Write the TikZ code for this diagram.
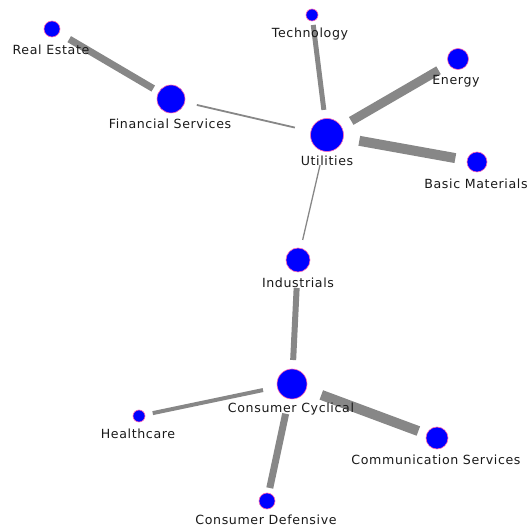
\documentclass[tikz,border=0pt]{standalone}
\usepackage{fontspec}
\setmainfont{DejaVu Sans}[LetterSpace=5]
\begin{document}
\begin{tikzpicture}[x=1pt,y=-1pt,
  sector/.style={circle,draw=red!50!magenta!60,line width=0.6pt,fill=blue,inner sep=0pt,minimum size=#1},
  lab/.style={font=\fontsize{12.6}{14}\selectfont,text=black!90,inner sep=0pt,anchor=center},
  link/.style={draw=black!47,line width=#1}]
\useasboundingbox (0,0) rectangle (531,529);
% nodes
\node[sector=16pt] (re) at (52,29) {};
\node[sector=28pt] (fs) at (171,99) {};
\node[sector=12pt] (te) at (312,15) {};
\node[sector=21pt] (en) at (458,59) {};
\node[sector=33pt] (ut) at (327,135) {};
\node[sector=20pt] (bm) at (477,162) {};
\node[sector=24pt] (in) at (298,260) {};
\node[sector=30pt] (cc) at (292,384) {};
\node[sector=12pt] (hc) at (139,416) {};
\node[sector=22pt] (cs) at (437,438) {};
\node[sector=16pt] (cd) at (267,501) {};
% edges
\draw[link=7pt,shorten <=20pt,shorten >=20.6pt] (re.center) -- (fs.center);
\draw[link=1.8pt,shorten <=26.5pt,shorten >=33pt] (fs.center) -- (ut.center);
\draw[link=5pt,shorten <=10pt,shorten >=25.3pt] (te.center) -- (ut.center);
\draw[link=9pt,shorten <=22.5pt,shorten >=28pt] (en.center) -- (ut.center);
\draw[link=10pt,shorten <=22pt,shorten >=32.8pt] (bm.center) -- (ut.center);
\draw[link=1.3pt,shorten <=30.8pt,shorten >=20.6pt] (ut.center) -- (in.center);
\draw[link=6pt,shorten <=28pt,shorten >=24pt] (in.center) -- (cc.center);
\draw[link=4pt,shorten <=14pt,shorten >=29.6pt] (hc.center) -- (cc.center);
\draw[link=10pt,shorten <=31.3pt,shorten >=19.9pt] (cc.center) -- (cs.center);
\draw[link=7pt,shorten <=30.4pt,shorten >=13.3pt] (cc.center) -- (cd.center);
% labels
\node[lab] (lre) at (51,50) {Real Estate};
\node[lab] (lfs) at (170,124) {Financial Services};
\node[lab] (lte) at (310,34) {Technology};
\node[lab] (len) at (456,81) {Energy};
\node[lab] (lut) at (327,161) {Utilities};
\node[lab] (lbm) at (476,184) {Basic Materials};
\node[lab] (lin) at (298,283) {Industrials};
\node[lab] (lcc) at (291,409) {Consumer Cyclical};
\node[lab] (lhc) at (138,434) {Healthcare};
\node[lab] (lcs) at (436,460) {Communication Services};
\node[lab] (lcd) at (266,520) {Consumer Defensive};
\end{tikzpicture}
\end{document}
